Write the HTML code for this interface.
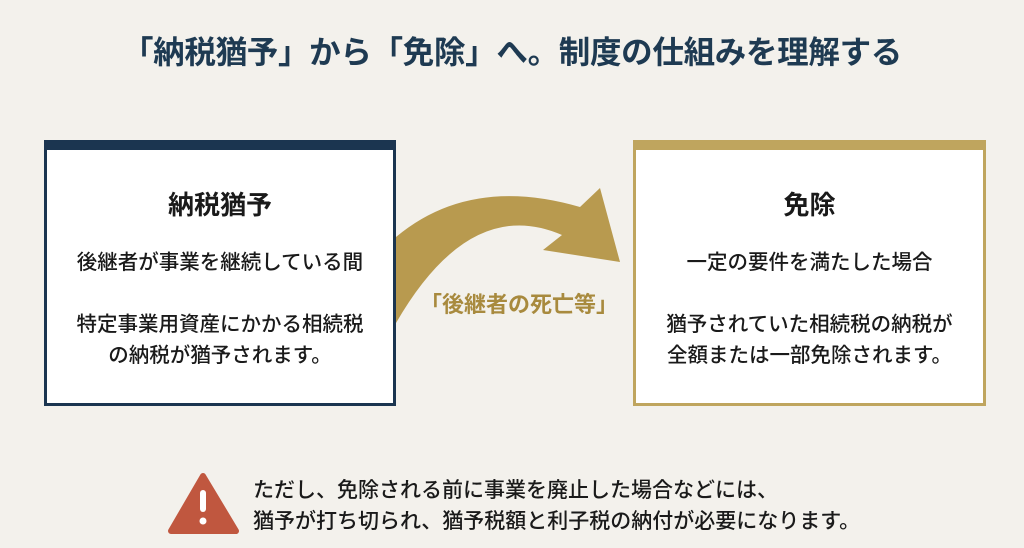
<!DOCTYPE html>
<html><head><meta charset="utf-8"><style>
body{margin:0;width:1024px;height:548px;background:#f3f1ec;font-family:"Liberation Sans","Noto Sans CJK JP",sans-serif;position:relative;overflow:hidden;color:#1a1a1a}
.t{position:absolute;left:0;width:1024px;text-align:center;top:27px;font-size:31.5px;font-weight:bold;color:#1e3a52;letter-spacing:-0.3px}
.box{position:absolute;top:140px;height:266px;box-sizing:border-box;background:#fff;text-align:center}
.l{left:44px;width:352px;border:3px solid #1b3550;border-top:10px solid #1b3550}
.r{left:633px;width:353px;border:3px solid #bfa55e;border-top:10px solid #bfa55e}
.h{position:absolute;left:0;right:0;top:35px;font-size:26px;font-weight:bold}
.p{position:absolute;left:0;right:0;font-size:20.5px;line-height:31px;font-weight:500}
.lab{position:absolute;left:420px;top:287px;font-size:22px;font-weight:bold;color:#a88a3e}
.w{position:absolute;left:253px;top:475px;font-size:21px;line-height:31px;font-weight:500}
</style></head><body>
<div class="t">「納税猶予」から「免除」へ。制度の仕組みを理解する</div>
<div class="box l"><div class="h">納税猶予</div><div class="p" style="top:97px">後継者が事業を継続している間</div><div class="p" style="top:159px">特定事業用資産にかかる相続税<br>の納税が猶予されます。</div></div>
<div class="box r"><div class="h">免除</div><div class="p" style="top:97px">一定の要件を満たした場合</div><div class="p" style="top:159px">猶予されていた相続税の納税が<br>全額または一部免除されます。</div></div>
<svg width="1024" height="548" style="position:absolute;left:0;top:0">
<path d="M396,237 Q470,175 580,207 L600,188 L620,262 L543,250 L562,235 Q470,195 396,323 Z" fill="#b89a4f"/>
<path d="M203,476 L236,531 L171,531 Z" fill="#c0573f" stroke="#c0573f" stroke-width="6" stroke-linejoin="round"/>
<rect x="200" y="490" width="6" height="22" rx="3" fill="#fff"/><circle cx="203" cy="521" r="3.5" fill="#fff"/>
</svg>
<div class="lab">「後継者の死亡等」</div>
<div class="w">ただし、免除される前に事業を廃止した場合などには、<br>猶予が打ち切られ、猶予税額と利子税の納付が必要になります。</div>
</body></html>
